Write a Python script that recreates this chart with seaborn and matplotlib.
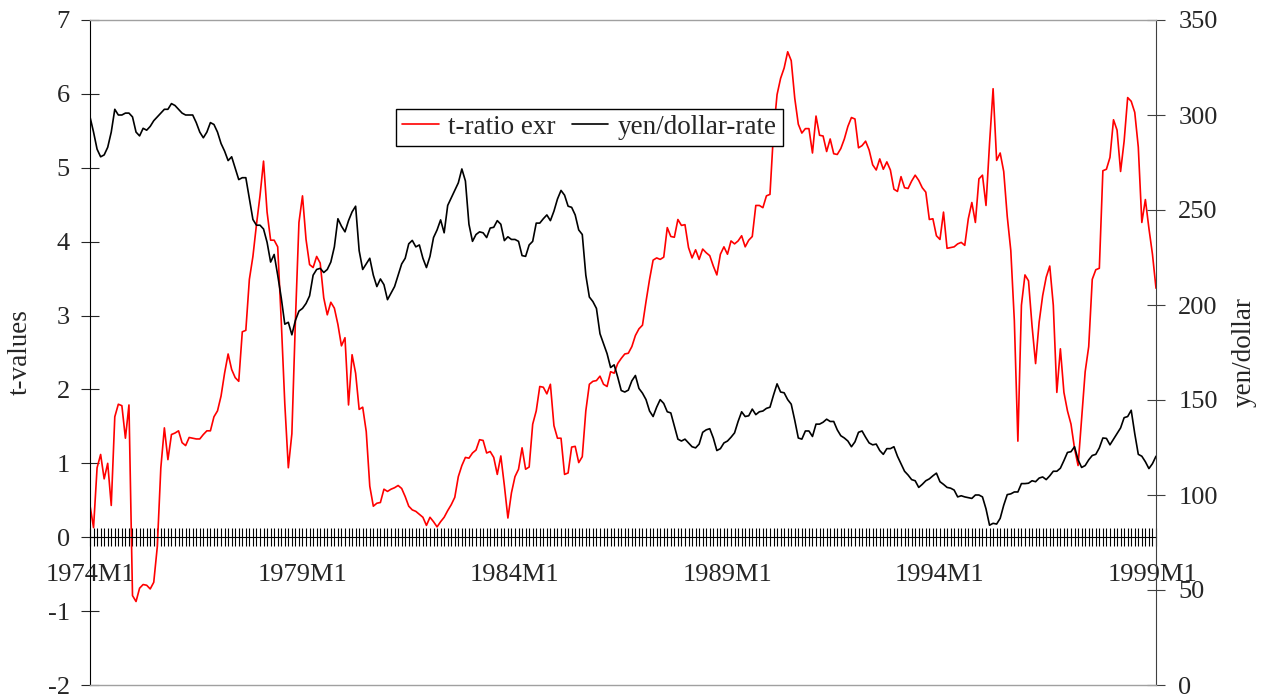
import matplotlib
matplotlib.use('Agg')
import matplotlib.pyplot as plt
import numpy as np
import pandas as pd
import seaborn as sns
from matplotlib.ticker import FixedLocator, MultipleLocator

# monthly t-ratio of exr, 1974M1 onwards (left axis)
t_ratio = [
    0.43, 0.13, 0.94, 1.12, 0.79, 1.00, 0.43, 1.63, 1.80, 1.78, 1.34, 1.79,
    -0.79, -0.87, -0.69, -0.64, -0.65, -0.70, -0.61, -0.13, 0.94, 1.48, 1.05, 1.39,
    1.41, 1.44, 1.28, 1.24, 1.35, 1.34, 1.33, 1.33, 1.39, 1.44, 1.44, 1.63,
    1.71, 1.91, 2.22, 2.48, 2.27, 2.16, 2.11, 2.78, 2.80, 3.49, 3.80, 4.23,
    4.62, 5.09, 4.40,
    4.02, 4.02, 3.93, 2.93, 1.81, 0.94, 1.40, 2.93, 4.26, 4.62, 4.03, 3.69,
    3.65, 3.80, 3.71, 3.24, 3.01, 3.18, 3.10, 2.88, 2.59, 2.70, 1.79, 2.47,
    2.22, 1.73, 1.76, 1.43, 0.69, 0.42, 0.46, 0.47, 0.65, 0.62, 0.65, 0.67,
    0.70, 0.66, 0.55, 0.42, 0.37, 0.35, 0.31, 0.27, 0.16, 0.27, 0.21, 0.14, 0.21, 0.27,
    0.36, 0.44, 0.54, 0.82, 0.97, 1.08, 1.07, 1.14, 1.18, 1.32, 1.31, 1.14, 1.16, 1.08, 0.85,
    1.10, 0.70, 0.26, 0.60, 0.82, 0.92, 1.21, 0.92, 0.95, 1.53, 1.71, 2.04, 2.03, 1.94, 2.07,
    1.51, 1.34, 1.34, 0.85, 0.87, 1.22, 1.23, 1.01, 1.09, 1.71, 2.07, 2.11, 2.12, 2.18, 2.07,
    2.04, 2.24, 2.22, 2.35, 2.42,
    2.48, 2.49, 2.58, 2.73, 2.82, 2.87, 3.19, 3.49, 3.75, 3.78,
    3.76, 3.79, 4.19, 4.07, 4.06, 4.30, 4.22, 4.23, 3.92, 3.78,
    3.89, 3.76, 3.90, 3.85, 3.81, 3.67, 3.55, 3.83, 3.93, 3.83,
    4.01, 3.97, 4.01, 4.08, 3.93, 4.02, 4.07, 4.49, 4.49, 4.46,
    4.62, 4.64, 5.48, 5.99, 6.21, 6.35, 6.57, 6.45, 5.94, 5.59,
    5.47, 5.53, 5.53, 5.20, 5.70, 5.44, 5.43, 5.22, 5.39, 5.19,
    5.18, 5.26, 5.39, 5.56, 5.68, 5.66, 5.27, 5.30, 5.36, 5.24,
    5.04, 4.97, 5.12, 4.98, 5.08, 4.97, 4.71, 4.68, 4.88, 4.73,
    4.72, 4.82, 4.90, 4.83, 4.73, 4.67, 4.30, 4.31, 4.08, 4.03,
    4.40, 3.91, 3.92, 3.93, 3.97, 3.99, 3.95, 4.31, 4.53, 4.26,
    4.85, 4.90, 4.49, 5.33, 6.07, 5.10, 5.20, 4.95, 4.34, 3.88,
    2.93, 1.30, 3.14, 3.55, 3.47, 2.86, 2.35, 2.91, 3.27, 3.52,
    3.67, 3.14, 1.96, 2.55, 1.96, 1.71, 1.53, 1.20, 0.97, 1.61,
    2.24, 2.58, 3.49, 3.62, 3.64, 4.96, 4.98, 5.14, 5.65, 5.51,
    4.95, 5.36, 5.95, 5.90, 5.75, 5.28, 4.26, 4.57, 4.18, 3.83,
    3.37,
]

# monthly yen/dollar rate (right axis)
yen_rate = [
    299, 291, 282, 278, 279, 283, 291, 303, 300, 300, 301, 301,
    299, 291, 289, 293, 292, 294, 297, 299, 301, 303, 303, 306,
    305, 303, 301, 300, 300, 300, 296, 291, 288, 291, 296, 295,
    291, 285, 281, 276, 278, 272, 266, 267, 267, 256, 245, 242,
    242, 240, 233,
    222.6, 226.6, 215.7, 203.8, 189.9, 190.9, 184.3, 191.9, 196.8, 198.2, 200.8, 204.8,
    215.7, 218.7, 219.3, 217.1, 218.7, 222.6, 230.6, 245.4, 241.5, 238.5, 244.4, 249.0,
    252.0, 228.6, 218.7, 221.6, 224.6, 215.7, 209.7, 213.7, 210.7, 202.8, 206.2, 209.7,
    215.7, 221.6, 224.6, 232.2, 234.0, 230.6, 231.6, 224.6, 219.7, 225.6, 235.5, 239.5, 244.8,
    238.0,
    252.4, 256.4, 260.3, 264.3, 271.6, 265.3, 242.5, 233.5, 237.1, 238.5,
    238.0, 235.5, 240.5, 240.9, 244.4, 242.5, 233.9, 235.9, 234.5, 234.5,
    233.5, 226.0, 225.6, 231.6, 233.5, 243.1, 243.1, 245.4, 247.4, 244.4,
    249.4, 255.8, 260.3, 257.8, 252.0, 251.4, 247.4, 239.5, 237.1, 215.7,
    204.2, 201.8, 198.2, 184.9, 179.6, 174.4, 167.1, 168.5, 162.1, 155.0,
    154.2, 155.2, 160.1, 162.9, 156.1, 153.6, 150.2, 144.2, 141.3, 146.2,
    150.2, 148.2, 143.8, 143.2, 136.3, 129.4, 128.4, 129.4, 127.4, 125.4,
    124.8, 126.8, 133.0, 134.3, 134.9, 130.0, 123.4, 124.4, 127.4, 128.4,
    130.4, 132.7, 138.7, 143.8, 141.3, 141.7, 145.2, 142.3, 143.8, 144.2,
    145.6, 146.2, 152.6, 158.5, 154.2, 153.8, 150.2, 147.8, 139.3, 130.0,
    129.4, 133.7, 133.7, 130.8, 137.3, 137.3, 138.3, 139.9, 138.7, 138.7,
    134.3, 131.2, 130.0, 128.4, 125.4, 128.0, 133.0, 133.7, 130.4, 127.4,
    126.4, 126.8, 123.4, 121.4, 124.4, 124.4, 125.4, 120.4, 116.5, 112.5,
    110.5, 108.1, 107.5, 104.0, 105.6, 107.5, 108.5, 110.1, 111.5, 107.0,
    105.6, 104.0, 103.6, 102.6, 99.0, 99.6, 99.0, 98.6, 98.2, 100.0,
    100.0, 99.0, 92.7, 84.1, 85.1, 84.7, 87.7, 94.6, 100.2, 100.6,
    101.6, 101.6, 106.0, 106.0, 106.2, 107.5, 107.0, 108.9, 109.5, 108.1,
    110.1, 112.5, 112.5, 114.1, 118.1, 122.4, 122.8, 125.4, 118.5, 114.5,
    115.5, 118.5, 120.8, 121.4, 124.8, 130.0, 129.8, 126.4, 129.4, 132.3,
    135.3, 140.7, 141.3, 144.6, 132.3, 121.4, 120.4, 117.5, 113.9, 116.5,
    120.4,
]

tick_pos = [0, 60, 120, 180, 240, 300]
tick_labels = ['1974M1', '1979M1', '1984M1', '1989M1', '1994M1', '1999M1']

sns.set_style('ticks')
plt.rcParams['font.family'] = ['Liberation Serif', 'DejaVu Serif']
plt.rcParams['axes.unicode_minus'] = False

df = pd.DataFrame({'month': np.arange(len(t_ratio)), 't': t_ratio, 'yen': yen_rate})

fig = plt.figure(figsize=(12.68, 7), dpi=100)
ax = fig.add_axes([90 / 1268, 15 / 700, 1066 / 1268, 665 / 700])
ax2 = ax.twinx()

sns.lineplot(data=df, x='month', y='t', ax=ax, color='#ff0000', linewidth=1.2,
             label='t-ratio exr', legend=False)
sns.lineplot(data=df, x='month', y='yen', ax=ax2, color='black', linewidth=1.2,
             label='yen/dollar-rate', legend=False)

ax.set_xlim(0, len(t_ratio) - 1)
ax.set_ylim(-2, 7)
ax2.set_ylim(0, 350)

# x axis crosses at t = 0
ax.spines['bottom'].set_position(('data', 0))
ax.spines['top'].set_visible(False)
ax.spines['right'].set_visible(False)
ax2.spines['left'].set_visible(False)
for s in ['top', 'bottom']:
    ax2.spines[s].set_color('#a0a0a0')
    ax2.spines[s].set_linewidth(1.0)
ax2.spines['right'].set_color('#404040')
ax.spines['left'].set_color('black')
ax.spines['bottom'].set_color('black')

ax.xaxis.set_major_locator(FixedLocator(tick_pos))
ax.xaxis.set_minor_locator(MultipleLocator(1))
ax.set_xticklabels(tick_labels)
ax.tick_params(axis='x', which='both', direction='inout', length=13, width=0.8,
               color='black', pad=13, labelsize=19)
ax.set_xlabel('')

ax.set_yticks(range(-2, 8))
ax.tick_params(axis='y', direction='inout', length=13, width=0.8, pad=8, labelsize=19)
ax2.set_yticks(range(0, 351, 50))
ax2.tick_params(axis='y', direction='inout', length=13, width=0.8, pad=9.5,
                labelsize=19, color='#404040')

ax.set_ylabel('t-values', fontsize=19.5)
ax.yaxis.set_label_coords(-0.0535, 0.5)
ax2.set_ylabel('yen/dollar', fontsize=19.5)
ax2.yaxis.set_label_coords(1.0713, 0.5)

handles = [ax.lines[0], ax2.lines[0]]
leg = ax2.legend(handles, ['t-ratio exr', 'yen/dollar-rate'], loc='center',
                 bbox_to_anchor=(0.4686, 0.839), ncol=2, frameon=True, fancybox=False,
                 shadow=False, edgecolor='black', framealpha=1, fontsize=19.5,
                 handlelength=1.35, handletextpad=0.35, columnspacing=0.6,
                 borderpad=0.22, borderaxespad=0)
leg.get_frame().set_linewidth(1.0)

fig.savefig('out.png', dpi=100)
